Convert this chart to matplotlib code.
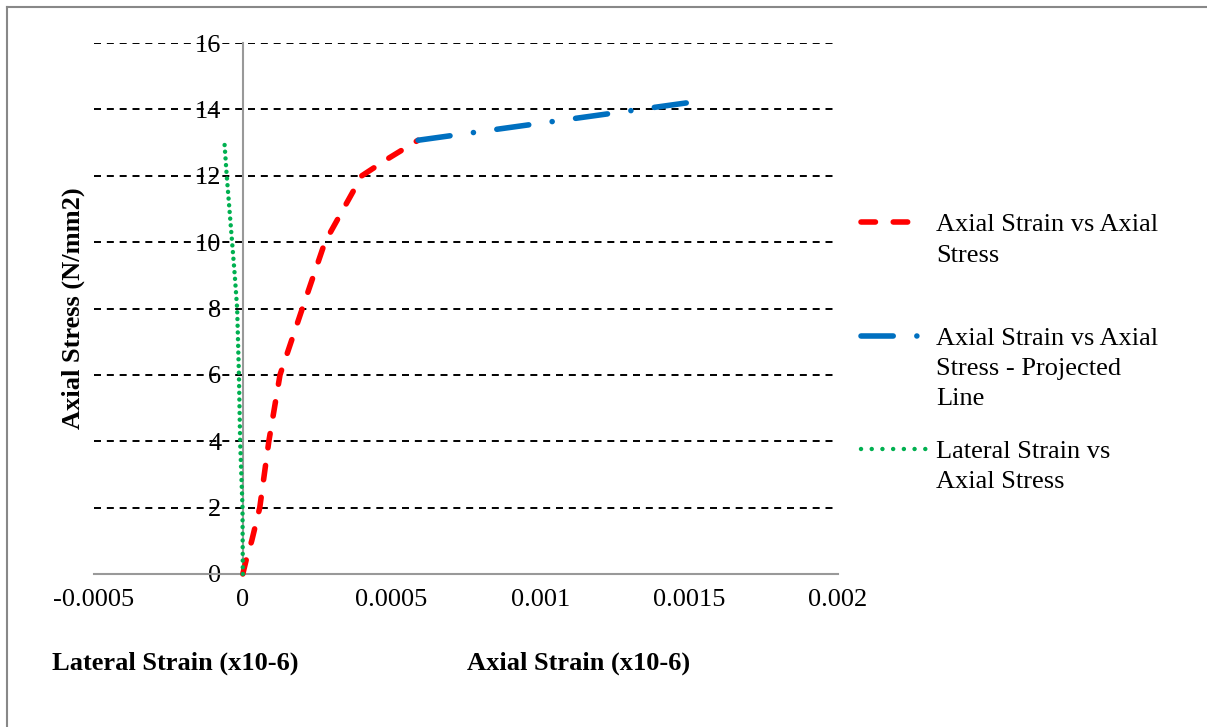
import matplotlib
matplotlib.use("Agg")
import matplotlib.pyplot as plt
from matplotlib.lines import Line2D

plt.rcParams['font.family'] = ['Liberation Serif', 'DejaVu Serif']

# ---- data ----
axial_strain = [0, 0.0000135, 0.00003, 0.000057, 0.0000875, 0.000125, 0.0002, 0.000276, 0.0004, 0.000485, 0.000589]
axial_stress = [0, 0.5, 1, 2, 4, 6, 8, 10, 12, 12.5, 13.07]

proj_strain = [0.000589, 0.001495]
proj_stress = [13.07, 14.2]

lateral_strain = [0, -0.000001, -0.000009, -0.000013, -0.000019, -0.000027, -0.000036, -0.000045, -0.000054, -0.0000625]
lateral_stress = [0, 2, 4, 6, 8, 9, 10, 11, 12, 13.1]

x_ticks = [-0.0005, 0, 0.0005, 0.001, 0.0015, 0.002]
x_tick_labels = ['-0.0005', '0', '0.0005', '0.001', '0.0015', '0.002']
y_ticks = [0, 2, 4, 6, 8, 10, 12, 14, 16]

legend_labels = [["Axial Strain vs Axial", "Stress"],
                 ["Axial Strain vs Axial", "Stress - Projected", "Line"],
                 ["Lateral Strain vs", "Axial Stress"]]

RED, BLUE, GREEN = '#FF0000', '#0070C0', '#00B050'
GRAY = '#999999'
FS = 19

W, H = 1207, 727
fig = plt.figure(figsize=(W / 100, H / 100), dpi=100)
fig.patch.set_facecolor('white')

def fx(px):
    return px / W

def fy(py):
    return 1 - py / H

ax = fig.add_axes([fx(94), fy(574), fx(838) - fx(94), fy(43) - fy(574)])
ax.set_xlim(-0.0005, 0.002)
ax.set_ylim(0, 16)

# gridlines (dashed black), skip 0
ax.hlines(y_ticks[1:], -0.0005, 0.002, colors='black', linewidth=1.4,
          linestyles=(0, (3.6, 3.0)), zorder=1)

# spines
for s in ['top', 'right']:
    ax.spines[s].set_visible(False)
ax.spines['left'].set_position(('data', 0))
ax.spines['left'].set_color(GRAY)
ax.spines['left'].set_linewidth(1.5)
ax.spines['bottom'].set_color(GRAY)
ax.spines['bottom'].set_linewidth(1.5)
ax.spines['left'].set_zorder(2)
ax.spines['bottom'].set_zorder(2)

ax.set_xticks(x_ticks)
ax.set_xticklabels(x_tick_labels)
ax.set_yticks(y_ticks)
ax.set_yticklabels([str(v) for v in y_ticks])
ax.tick_params(axis='both', length=0, labelsize=FS)
ax.tick_params(axis='x', pad=11)
ax.tick_params(axis='y', pad=15.5)

red_ls = (0, (2.6, 3.2))
blue_ls = (0, (5.8, 4.25, 0.01, 4.25))
green_ls = (0, (0.01, 1.5))

ax.plot(axial_strain, axial_stress, color=RED, lw=4, linestyle=red_ls,
        dash_capstyle='round', solid_capstyle='round', zorder=4, clip_on=False)
ax.plot(proj_strain, proj_stress, color=BLUE, lw=4, linestyle=blue_ls,
        dash_capstyle='round', zorder=4, clip_on=False)
ax.plot(lateral_strain, lateral_stress, color=GREEN, lw=3.2, linestyle=green_ls,
        dash_capstyle='round', zorder=4, clip_on=False)

# axis titles
fig.text(fx(73), fy(308), "Axial Stress (N/mm2)", rotation=90, fontsize=FS,
         fontweight='bold', ha='center', va='center')
fig.text(fx(52), fy(670), "Lateral Strain (x10-6)", fontsize=FS,
         fontweight='bold', ha='left', va='baseline')
fig.text(fx(467), fy(670), "Axial Strain (x10-6)", fontsize=FS,
         fontweight='bold', ha='left', va='baseline')

# legend (manual)
fig.add_artist(Line2D([fx(861), fx(912)], [fy(222), fy(222)], color=RED, lw=4,
                      linestyle=(0, (2.6, 3.2)), dash_capstyle='round'))
fig.add_artist(Line2D([fx(861), fx(918)], [fy(336), fy(336)], color=BLUE, lw=4,
                      linestyle=(0, (5.8, 4.25, 0.01, 4.25)), dash_capstyle='round'))
fig.add_artist(Line2D([fx(861), fx(926)], [fy(449), fy(449)], color=GREEN, lw=3.2,
                      linestyle=(0, (0.01, 2.4)), dash_capstyle='round'))
baselines = [[231, 262], [345, 375, 405], [458, 488]]
for lines, bls in zip(legend_labels, baselines):
    for txt, b in zip(lines, bls):
        fig.text(fx(936), fy(b), txt, fontsize=FS, ha='left', va='baseline')

# outer border (top and left visible)
fig.add_artist(Line2D([fx(7), fx(7)], [fy(7), 0], color='#888888', lw=1.5))
fig.add_artist(Line2D([fx(7), 1], [fy(7), fy(7)], color='#888888', lw=1.5))

fig.savefig('out.png', dpi=100)
